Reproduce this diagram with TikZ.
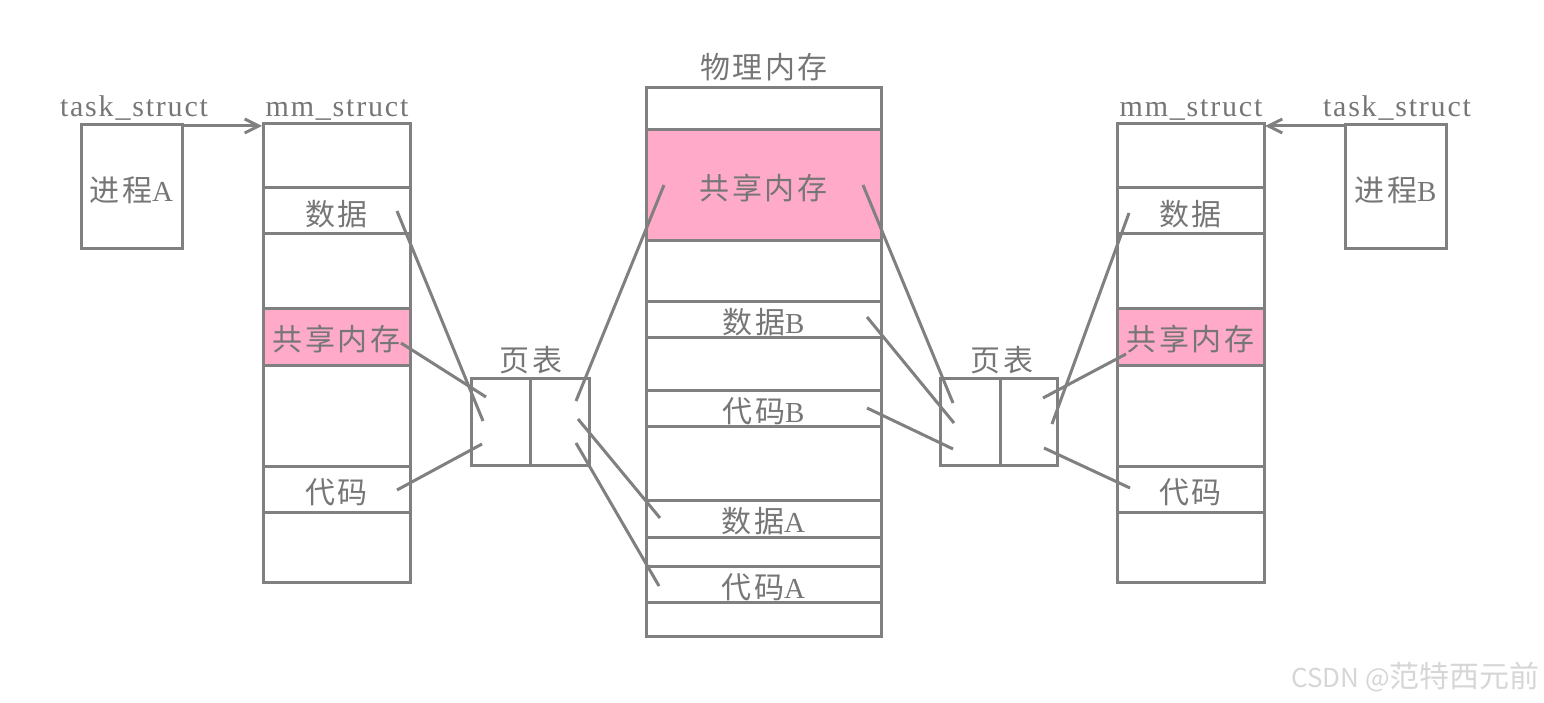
\documentclass[tikz,border=0pt]{standalone}
\usepackage{fontspec}
\setmainfont{Liberation Serif}
\newfontfamily\lat{Liberation Serif}[LetterSpace=6]
\newfontfamily\cjk{Noto Sans CJK SC}[LetterSpace=8]
\newfontfamily\wmfont{Noto Sans CJK SC}
\usetikzlibrary{arrows.meta}
\definecolor{lc}{HTML}{808080}
\definecolor{tc}{HTML}{767676}
\definecolor{pk}{HTML}{FFAAC8}
\definecolor{wm}{HTML}{D6D6D6}
\newcommand\zh[1]{{\cjk\fontsize{30}{30}\selectfont #1}}
\newcommand\lo[1]{\raisebox{-3pt}[\height][\depth]{#1}}
\tikzset{
  box/.style={draw=lc, line width=3pt, inner sep=0pt, outer sep=0pt, text=tc,
    font=\fontsize{29}{29}\selectfont},
  shm/.style={box, fill=pk},
  lbl/.style={inner sep=0pt, text=tc, font=\lat\fontsize{30}{30}\selectfont},
  conn/.style={draw=lc, line width=3pt},
  ptr/.style={draw=lc, line width=3pt, -{Straight Barb[length=14pt,width=14pt,line width=3pt]}}
}
\begin{document}
\begin{tikzpicture}[x=1pt,y=-1pt]
\useasboundingbox (0,0) rectangle (1544,703);
% ---------- process A ----------
\node[box, minimum width=101, minimum height=124] (pa) at (131.5,187) {\lo{\zh{进程}A}};
\node[lbl, anchor=base] (tsa) at (134,117) {task\_struct};
% ---------- left mm_struct ----------
\node[box, minimum width=147, minimum height=458] (mma) at (336.5,353) {};
\node[lbl, anchor=base] (mmal) at (337,117) {mm\_struct};
\node[box, minimum width=147, minimum height=46] (mmadata) at (336.5,211) {\lo{\zh{数据}}};
\node[shm, minimum width=147, minimum height=57] (mmashm) at (336.5,336.5) {\lo{\zh{共享内存}}};
\node[box, minimum width=147, minimum height=46] (mmacode) at (336.5,489) {\lo{\zh{代码}}};
% ---------- left page table ----------
\node[box, minimum width=59, minimum height=87] (ptal) at (500.5,421.5) {};
\node[box, minimum width=59, minimum height=87] (ptar) at (559.5,421.5) {};
\node[lbl] (ptat) at (531,360) {\zh{页表}};
% ---------- physical memory ----------
\node[box, minimum width=235, minimum height=548] (phys) at (763.5,362) {};
\node[lbl] (physl) at (764,67) {\zh{物理内存}};
\node[shm, minimum width=235, minimum height=111] (pshm) at (763.5,185.5) {\lo{\zh{共享内存}}};
\node[box, minimum width=235, minimum height=36] (pdb) at (763.5,319) {\lo{\zh{数据}B}};
\node[box, minimum width=235, minimum height=36] (pcb) at (763.5,408) {\lo{\zh{代码}B}};
\node[box, minimum width=235, minimum height=37] (pda) at (763.5,518.5) {\lo{\zh{数据}A}};
\node[box, minimum width=235, minimum height=36] (pca) at (763.5,584) {\lo{\zh{代码}A}};
% ---------- right page table ----------
\node[box, minimum width=60, minimum height=87] (ptbl) at (970,421.5) {};
\node[box, minimum width=57, minimum height=87] (ptbr) at (1028.5,421.5) {};
\node[lbl] (ptbt) at (1002,360) {\zh{页表}};
% ---------- right mm_struct ----------
\node[box, minimum width=147, minimum height=458] (mmb) at (1190.5,353) {};
\node[lbl, anchor=base] (mmbl) at (1191,117) {mm\_struct};
\node[box, minimum width=147, minimum height=46] (mmbdata) at (1190.5,211) {\lo{\zh{数据}}};
\node[shm, minimum width=147, minimum height=57] (mmbshm) at (1190.5,336.5) {\lo{\zh{共享内存}}};
\node[box, minimum width=147, minimum height=46] (mmbcode) at (1190.5,489) {\lo{\zh{代码}}};
% ---------- process B ----------
\node[box, minimum width=101, minimum height=124] (pb) at (1395.5,187) {\lo{\zh{进程}B}};
\node[lbl, anchor=base] (tsb) at (1397,117) {task\_struct};
% ---------- pointers ----------
\coordinate (aa) at (182,126);
\coordinate (ab) at (262,126);
\coordinate (ba) at (1345,126);
\coordinate (bb) at (1265,126);
\draw[ptr] (aa) -- (ab);
\draw[ptr] (ba) -- (bb);
% ---------- connector end points ----------
\coordinate (c1s) at (397,211); \coordinate (c1e) at (483,421);
\coordinate (c2s) at (401,343); \coordinate (c2e) at (486,397);
\coordinate (c3s) at (397,490); \coordinate (c3e) at (482,444);
\coordinate (c4s) at (576,401); \coordinate (c4e) at (664,185);
\coordinate (c5s) at (578,419); \coordinate (c5e) at (660,518);
\coordinate (c6s) at (576,443); \coordinate (c6e) at (659,586);
\coordinate (d1s) at (863,185); \coordinate (d1e) at (953,403);
\coordinate (d2s) at (867,317); \coordinate (d2e) at (954,423);
\coordinate (d3s) at (867,408); \coordinate (d3e) at (953,449);
\coordinate (d4s) at (1129,213); \coordinate (d4e) at (1052,424);
\coordinate (d5s) at (1126,354); \coordinate (d5e) at (1043,398);
\coordinate (d6s) at (1130,488); \coordinate (d6e) at (1044,448);
\foreach \p in {c1,c2,c3,c4,c5,c6,d1,d2,d3,d4,d5,d6}
  \draw[conn] (\p s) -- (\p e);
% ---------- watermark ----------
\node[inner sep=0pt, anchor=east, text=wm] (wmk) at (1540,677)
  {\wmfont\fontsize{26}{26}\selectfont CSDN @\fontsize{30}{30}\selectfont 范特西元前};
\end{tikzpicture}
\end{document}
